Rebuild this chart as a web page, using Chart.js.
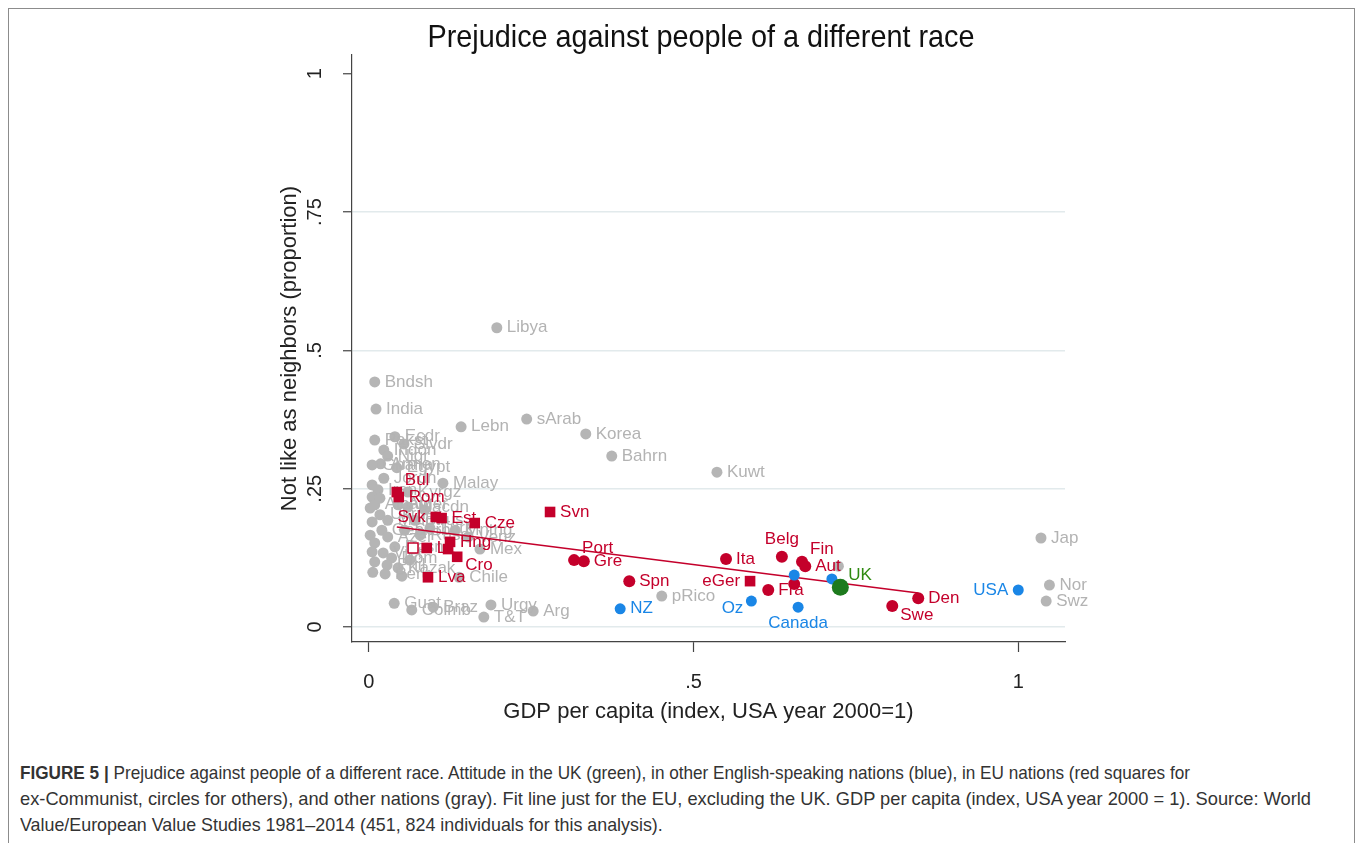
<!DOCTYPE html>
<html>
<head>
<meta charset="utf-8">
<script src="https://cdn.jsdelivr.net/npm/chart.js@4.4.1/dist/chart.umd.min.js"></script>
<style>
  html, body { margin: 0; padding: 0; background: #fff; }
  body { width: 1363px; height: 843px; position: relative; overflow: hidden; }
  #frame { position: absolute; left: 8px; top: 8px; width: 1347px; height: 900px; border: 1px solid #8c8c8c; box-sizing: border-box; }
  #wrap { position: absolute; left: 0; top: 0; width: 1363px; height: 730px; }
  #caption { position: absolute; left: 20px; top: 760px; font-family: "Liberation Sans", Arial, sans-serif; font-size: 19px; line-height: 26px; color: #333; white-space: nowrap; }
  #caption div { transform-origin: 0 0; height: 26px; }
  #cap1 { transform: scaleX(0.903); }
  #cap2 { transform: scaleX(0.962); }
  #cap3 { transform: scaleX(0.94); }
</style>
</head>
<body>
<div id="frame"></div>
<div id="wrap"><canvas id="c" width="1363" height="730"></canvas></div>
<div id="caption">
  <div id="cap1"><b>FIGURE 5 |</b> Prejudice against people of a different race. Attitude in the UK (green), in other English-speaking nations (blue), in EU nations (red squares for</div>
  <div id="cap2">ex-Communist, circles for others), and other nations (gray). Fit line just for the EU, excluding the UK. GDP per capita (index, USA year 2000 = 1). Source: World</div>
  <div id="cap3">Value/European Value Studies 1981–2014 (451, 824 individuals for this analysis).</div>
</div>
<script>
// ---- chart text ----
const chartTitle = 'Prejudice against people of a different race';
const xTitle = 'GDP per capita (index, USA year 2000=1)';
const yTitle = 'Not like as neighbors (proportion)';
const xTickValues = [0, 0.5, 1];
const xTickLabels = ['0', '.5', '1'];
const yTickValues = [0, 0.25, 0.5, 0.75, 1];
const yTickLabels = ['0', '.25', '.5', '.75', '1'];

// ---- other nations (gray) ----
const otherNames = ['Libya','Bndsh','India','Lebn','sArab','Korea','Bahrn','Kuwt','Malay','Mex','Chile','Guat','Braz','Colmb','Urgy','T&T','Arg','pRico','Jap','Nor','Swz','',
  'Ecdr','Slvdr','Indon','Armen','Egypt','Jordn','Pakst','Ghana','Nigr','','Iran','','Alban','','Macdn','Ukrn','','Moldv','','Geor','','Azer','Bosn','','Viet','Dom','','Phil','Kazak','','Peru','','Serb','Blrus','','Russ','Turk','Mntng','Venz','','Alger','Kyrgz',''];
const otherX = [0.197,0.009,0.011,0.142,0.243,0.334,0.374,0.536,0.114,0.171,0.139,0.039,0.099,0.066,0.188,0.177,0.253,0.451,1.035,1.048,1.043,0.723,
  0.040,0.054,0.023,0.018,0.043,0.023,0.009,0.005,0.029,0.005,0.014,0.005,0.009,0.002,0.060,0.017,0.005,0.029,0.002,0.020,0.009,0.029,0.040,0.005,0.022,0.035,0.009,0.028,0.045,0.006,0.025,0.051,0.055,0.071,0.086,0.079,0.094,0.133,0.153,0.063,0.045,0.060,0.017];
const otherY = [0.541,0.443,0.394,0.362,0.376,0.349,0.309,0.280,0.260,0.141,0.090,0.043,0.036,0.031,0.040,0.018,0.029,0.056,0.161,0.076,0.047,0.110,
  0.344,0.331,0.320,0.295,0.288,0.269,0.338,0.293,0.309,0.257,0.248,0.235,0.221,0.215,0.217,0.203,0.190,0.193,0.166,0.175,0.152,0.163,0.145,0.136,0.134,0.125,0.118,0.112,0.107,0.099,0.096,0.092,0.175,0.193,0.212,0.166,0.179,0.175,0.163,0.121,0.221,0.244,0.233];

// ---- EU nations, not ex-Communist (red circles) ----
const euNames = ['Port','Gre','Spn','Ita','Belg','Fin','Aut','Fra','Den','Swe',''];
const euX = [0.316,0.331,0.401,0.550,0.636,0.667,0.672,0.615,0.846,0.806,0.655];
const euY = [0.121,0.119,0.083,0.123,0.127,0.118,0.110,0.067,0.052,0.038,0.078];

// ---- EU nations, ex-Communist (red squares) ----
const exComNames = ['Svn','Bul','Rom','Svk','Est','Cze','Hng','Lit','','Cro','Lva','eGer'];
const exComX = [0.279,0.043,0.046,0.103,0.112,0.163,0.125,0.089,0.122,0.136,0.091,0.587];
const exComY = [0.208,0.244,0.235,0.199,0.197,0.188,0.154,0.143,0.141,0.127,0.090,0.083];
const exComOpenX = [0.068];
const exComOpenY = [0.143];

// ---- other English-speaking nations (blue) ----
const angloNames = ['USA','NZ','Oz','Canada','',''];
const angloX = [1.000,0.387,0.589,0.661,0.655,0.713];
const angloY = [0.067,0.033,0.047,0.036,0.094,0.087];

// ---- UK (green) ----
const ukNames = ['UK'];
const ukX = [0.726];
const ukY = [0.072];

// ---- EU fit line (excluding UK) ----
const fitX = [0.043, 0.846];
const fitY = [0.181, 0.0615];

// label placement around the marker (default: right)
const labelPos = { Port:'tr', Belg:'t', Fin:'tr', Swe:'br', Bul:'tr', Svk:'l', Cro:'br', eGer:'l', USA:'l', Oz:'bl', Canada:'b', UK:'tr' };

const FONT = '"Liberation Sans", Arial, sans-serif';
const RED = '#c4002b', BLUE = '#1a86e6', GREEN = '#1d7a1d', GRAY = '#b5b5b5';

function pts(xs, ys) { return xs.map((x, i) => ({ x: x, y: ys[i] })); }

const labelOffsets = {
  r: [10, 0, 'left'], l: [-10, 0, 'right'], tr: [8, -12, 'left'], br: [8, 9, 'left'],
  bl: [-8, 7, 'right'], t: [0, -17, 'center'], b: [0, 16, 'center']
};

const pointLabels = {
  id: 'pointLabels',
  afterDatasetDraw(chart, args) {
    const ds = chart.data.datasets[args.index];
    if (!ds.names) return;
    const ctx = chart.ctx;
    ctx.save();
    ctx.font = '17px ' + FONT;
    ctx.fillStyle = ds.labelColor;
    ctx.textBaseline = 'middle';
    args.meta.data.forEach((el, i) => {
      const name = ds.names[i];
      if (!name) return;
      const o = labelOffsets[labelPos[name] || 'r'];
      ctx.textAlign = o[2];
      ctx.fillText(name, el.x + o[0], el.y + o[1]);
    });
    ctx.restore();
  }
};

// condensed main title above the plot
const mainTitle = {
  id: 'mainTitle',
  afterDraw(chart) {
    const ctx = chart.ctx;
    ctx.save();
    ctx.translate(701, 38);
    ctx.scale(0.9, 1);
    ctx.font = '32px ' + FONT;
    ctx.fillStyle = '#111';
    ctx.textAlign = 'center';
    ctx.textBaseline = 'middle';
    ctx.fillText(chartTitle, 0, 0);
    ctx.restore();
  }
};

new Chart(document.getElementById('c'), {
  type: 'scatter',
  data: {
    datasets: [
      { data: pts(otherX, otherY), names: otherNames, labelColor: '#b3b3b3', backgroundColor: GRAY, borderColor: GRAY, borderWidth: 0, pointRadius: 5.5, order: 5 },
      { type: 'line', data: pts(fitX, fitY), borderColor: RED, borderWidth: 1.6, pointRadius: 0, showLine: true, fill: false, order: 4 },
      { data: pts(euX, euY), names: euNames, labelColor: RED, backgroundColor: RED, borderColor: RED, borderWidth: 0, pointRadius: 6, order: 3 },
      { data: pts(exComOpenX, exComOpenY), backgroundColor: '#fff', borderColor: RED, borderWidth: 1.5, pointStyle: 'rect', pointRadius: 7, order: 3 },
      { data: pts(exComX, exComY), names: exComNames, labelColor: RED, backgroundColor: RED, borderColor: RED, borderWidth: 0, pointStyle: 'rect', pointRadius: 7.5, order: 2 },
      { data: pts(angloX, angloY), names: angloNames, labelColor: BLUE, backgroundColor: BLUE, borderColor: BLUE, borderWidth: 0, pointRadius: 5.5, order: 1 },
      { data: pts(ukX, ukY), names: ukNames, labelColor: '#2f8a10', backgroundColor: GREEN, borderColor: GREEN, borderWidth: 0, pointRadius: 8.5, order: 0 }
    ]
  },
  options: {
    responsive: false,
    animation: false,
    devicePixelRatio: 1,
    layout: { padding: { left: 272, right: 298, top: 55, bottom: 0 } },
    plugins: { legend: { display: false }, tooltip: { enabled: false }, title: { display: false } },
    scales: {
      x: {
        type: 'linear', min: -0.026, max: 1.072,
        afterBuildTicks(s) { s.ticks = xTickValues.map(v => ({ value: v })); },
        afterFit(s) { s.height = 88; },
        ticks: { callback: (v, i) => xTickLabels[i], font: { family: FONT, size: 20 }, color: '#222', padding: 18, maxRotation: 0, autoSkip: false },
        grid: { drawOnChartArea: false, tickLength: 10, tickColor: '#444', tickWidth: 1.2 },
        border: { color: '#444', width: 1.2 },
        title: { display: true, text: xTitle, font: { family: FONT, size: 22 }, color: '#222', padding: { top: 0, bottom: 5 } }
      },
      y: {
        type: 'linear', min: -0.027, max: 1.034,
        afterBuildTicks(s) { s.ticks = yTickValues.map(v => ({ value: v })); },
        afterFit(s) { s.width = 80; },
        ticks: { callback: (v, i) => yTickLabels[i], font: { family: FONT, size: 20 }, color: '#222', padding: 14, minRotation: 90, maxRotation: 90, crossAlign: 'center', autoSkip: false },
        grid: {
          color: c => (c.tick && c.tick.value < 1) ? '#e2eaec' : 'rgba(0,0,0,0)',
          lineWidth: 1.5, tickLength: 9, tickColor: '#444', tickWidth: 1.2
        },
        border: { color: '#444', width: 1.2 },
        title: { display: true, text: yTitle, font: { family: FONT, size: 22 }, color: '#222', padding: { top: 5, bottom: 0 } }
      }
    }
  },
  plugins: [pointLabels, mainTitle]
});
</script>
</body>
</html>
